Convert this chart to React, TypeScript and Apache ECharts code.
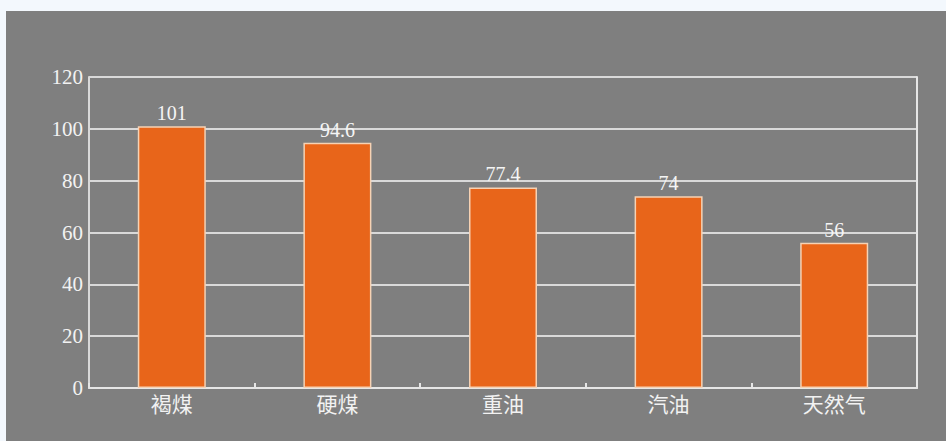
import React, { useEffect, useRef } from "react";
import * as echarts from "echarts";

const categories = ["褐煤", "硬煤", "重油", "汽油", "天然气"];
const values = [101, 94.6, 77.4, 74, 56];
const labelTexts = ["101", "94.6", "77.4", "74", "56"];

export default function App() {
  const ref = useRef<HTMLDivElement>(null);
  useEffect(() => {
    document.body.style.margin = "0";
    document.body.style.background = "#f3f8fd";
    const chart = echarts.init(ref.current!, undefined, { renderer: "svg" });
    const font = "'Liberation Serif', 'Times New Roman', 'Noto Sans CJK SC', serif";
    chart.setOption({
      animation: false,
      backgroundColor: "#7f7f7f",
      textStyle: { fontFamily: font },
      grid: { left: 83, right: 29, top: 66, bottom: 53 },
      xAxis: {
        type: "category",
        data: categories,
        axisLine: { show: true, lineStyle: { color: "#e6e6e6", width: 2 } },
        axisTick: { show: true, inside: true, length: 5, lineStyle: { color: "#e6e6e6", width: 2 } },
        axisLabel: { color: "#f2f2f2", fontSize: 21, margin: 6, fontFamily: font },
      },
      yAxis: [
        {
          type: "value",
          min: 0,
          max: 120,
          interval: 20,
          axisLine: { show: true, lineStyle: { color: "#d9d9d9", width: 2 } },
          axisTick: { show: false },
          axisLabel: { color: "#f2f2f2", fontSize: 21, margin: 6, fontFamily: font },
          splitLine: { show: true, lineStyle: { color: "#d9d9d9", width: 2 } },
        },
        {
          type: "value",
          min: 0,
          max: 120,
          interval: 20,
          position: "right",
          axisLine: { show: true, lineStyle: { color: "#e6e6e6", width: 2 } },
          axisTick: { show: false },
          axisLabel: { show: false },
          splitLine: { show: false },
        },
      ],
      series: [
        {
          type: "bar",
          data: values,
          barWidth: 68,
          itemStyle: { color: "#e8651a", borderColor: "#f6d2b4", borderWidth: 1.5 },
          label: {
            show: true,
            position: "top",
            distance: 3,
            color: "#f5f5f5",
            fontSize: 20,
            fontFamily: font,
            formatter: (p: any) => labelTexts[p.dataIndex],
          },
        },
      ],
    });
    return () => chart.dispose();
  }, []);
  return (
    <div style={{ width: 946, height: 441, position: "relative", background: "#f3f8fd" }}>
      <div ref={ref} style={{ position: "absolute", left: 6, top: 11, width: 940, height: 430 }} />
    </div>
  );
}
